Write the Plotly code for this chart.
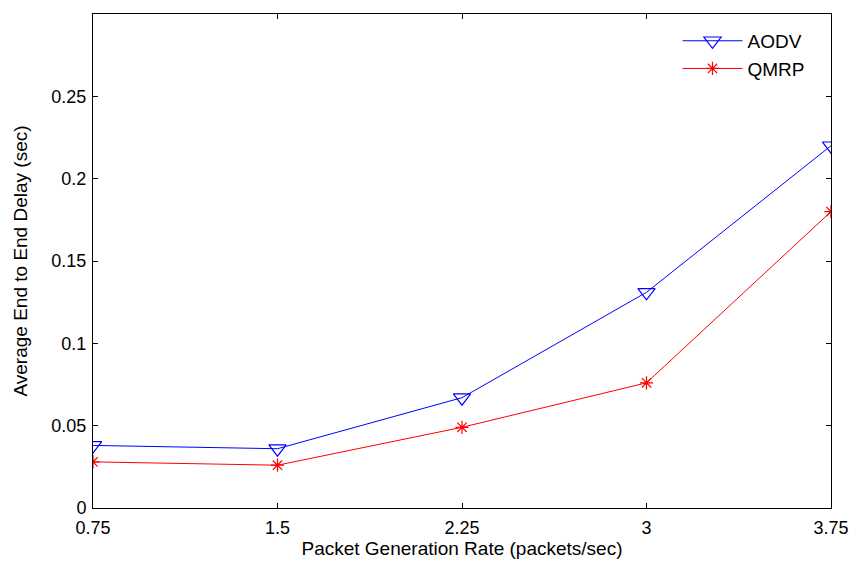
import plotly.graph_objects as go

rates = [0.75, 1.5, 2.25, 3, 3.75]
aodv = [0.038, 0.036, 0.067, 0.131, 0.220]
qmrp = [0.028, 0.026, 0.049, 0.076, 0.180]
y_ticks = [0, 0.05, 0.1, 0.15, 0.2, 0.25]
y_tick_labels = ["0", "0.05", "0.1", "0.15", "0.2", "0.25"]
x_tick_labels = ["0.75", "1.5", "2.25", "3", "3.75"]

FONT = "Liberation Sans, Arial, sans-serif"

fig = go.Figure()
fig.add_trace(go.Scatter(x=rates, y=aodv, name="AODV", mode="lines+markers",
                         line=dict(color="#0000ff", width=1),
                         marker=dict(symbol="triangle-down-open", size=15,
                                     color="#0000ff", line=dict(width=1.2))))
fig.add_trace(go.Scatter(x=rates, y=qmrp, name="QMRP", mode="lines+markers",
                         line=dict(color="#ff0000", width=1),
                         marker=dict(symbol="asterisk-open", size=11,
                                     color="#ff0000", line=dict(width=1.2, color="#ff0000"))))

axis_common = dict(showline=True, linecolor="#000000", linewidth=1, mirror="ticks",
                   ticks="inside", ticklen=5, tickcolor="#000000", showgrid=False,
                   zeroline=False, automargin=False,
                   tickfont=dict(family=FONT, size=18, color="#000"))

fig.update_xaxes(range=[0.75, 3.75], tickvals=rates, ticktext=x_tick_labels,
                 ticklabelstandoff=3,
                 title=dict(text="Packet Generation Rate (packets/sec)", standoff=4,
                            font=dict(family=FONT, size=19, color="#000")),
                 **axis_common)
fig.update_yaxes(range=[0, 0.3], tickvals=y_ticks, ticktext=y_tick_labels,
                 ticklabelstandoff=2,
                 title=dict(text="Average End to End Delay (sec)", standoff=18,
                            font=dict(family=FONT, size=19, color="#000")),
                 **axis_common)

fig.update_layout(width=849, height=553, plot_bgcolor="white", paper_bgcolor="white",
                  margin=dict(l=85, r=26, t=6, b=53),
                  legend=dict(x=0.792, y=0.984, xanchor="left", yanchor="top",
                              bgcolor="rgba(255,255,255,0)", borderwidth=0,
                              font=dict(family=FONT, size=19, color="#000"),
                              tracegroupgap=0, itemwidth=60))
fig.write_html("out.html")
